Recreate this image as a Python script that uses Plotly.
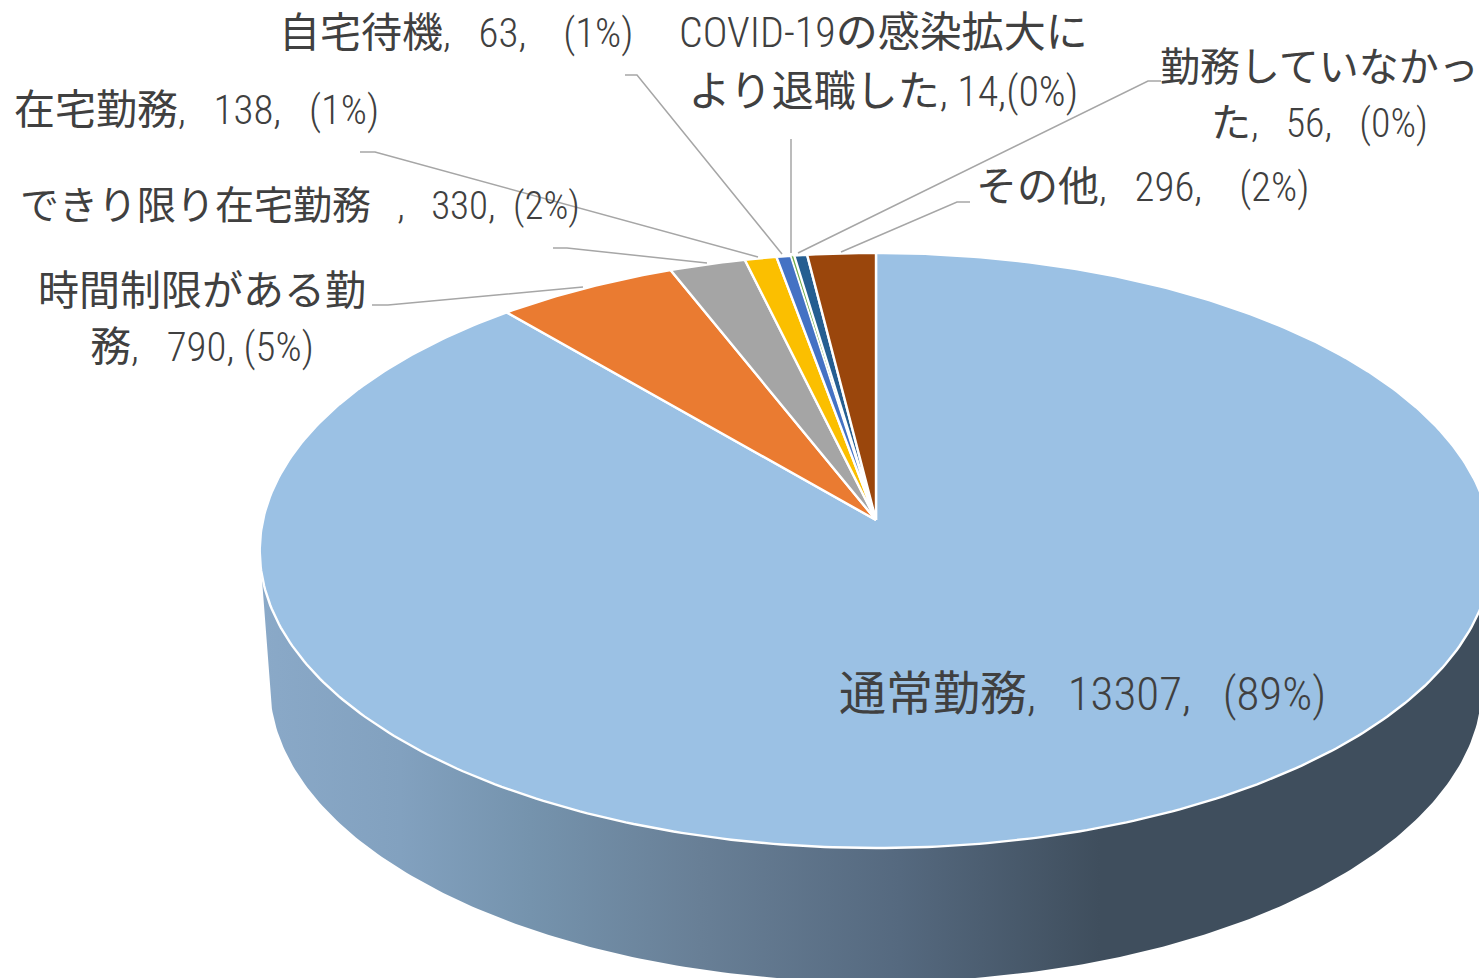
import numpy as np
import plotly.graph_objects as go

# Data
categories = ["通常勤務", "時間制限がある勤務", "できり限り在宅勤務", "在宅勤務", "自宅待機",
              "COVID-19の感染拡大により退職した", "勤務していなかった", "その他"]
values = [13307, 790, 330, 138, 63, 14, 56, 296]
percent_labels = [89, 5, 2, 1, 1, 0, 0, 2]
colors = ["#9bc1e4", "#ea7b31", "#a5a5a5", "#fbbf00", "#4472c4", "#70ad47", "#255e91", "#9a460c"]

SP = "\u00a0"
label_lines = [
    [f"通常勤務,{SP*3}13307,{SP*3}({percent_labels[0]}%)"],
    ["時間制限がある勤", f"務,{SP*3}790,{SP}({percent_labels[1]}%)"],
    [f"できり限り在宅勤務{SP*3},{SP*3}330,{SP*2}({percent_labels[2]}%)"],
    [f"在宅勤務,{SP*3}138,{SP*3}({percent_labels[3]}%)"],
    [f"自宅待機,{SP*3}63,{SP*4}({percent_labels[4]}%)"],
    ["COVID-19の感染拡大に", f"より退職した,{SP}14,({percent_labels[5]}%)"],
    ["勤務していなかっ", f"た,{SP*3}56,{SP*3}({percent_labels[6]}%)"],
    [f"その他,{SP*3}296,{SP*4}({percent_labels[7]}%)"],
]
label_x = [1082, 202, 300, 196, 456, 883, 1319, 1142]
label_y = [693, 319, 206, 110, 33, 62, 95, 187]
label_size = [47, 41, 39, 41, 41, 42, 40, 41]
label_line_size = [47, 43, 39, 41, 41, 45, 43, 41]

leaders = [
    ([372, 388, 583], [305, 305, 287]),
    ([553, 567, 707], [248, 248, 263]),
    ([360, 375, 758], [152, 152, 257]),
    ([625, 637, 782], [75, 75, 254]),
    ([791, 791], [139, 253]),
    ([1161, 1148, 798], [81, 81, 253]),
    ([970, 957, 841], [202, 202, 252]),
]

# Perspective of the pie disc on the page
CX, TOP_APEX_Y, B, A, K = 876, 520, 613, 294.4, 0.1025
BOTTOM_CY, BOTTOM_RX, BOTTOM_RY = 685, 606, 297
ELLIPSE_CY = 550

def project(theta):
    X, Y = np.sin(theta), np.cos(theta)
    w = 1 + K * Y
    return CX + B * X / w, TOP_APEX_Y - A * Y / w

fig = go.Figure()

# Side wall
phi = np.linspace(0, np.pi, 240)
rim_x = CX + (B * 1.0053) * np.cos(phi)
rim_y = ELLIPSE_CY + 297 * np.sin(phi)
bot_x = CX + BOTTOM_RX * np.cos(phi[::-1])
bot_y = BOTTOM_CY + BOTTOM_RY * np.sin(phi[::-1])
side_x = np.concatenate([rim_x, bot_x])
side_y = np.concatenate([rim_y, bot_y])
side_stops = [[0, "#8aa9c8"], [0.114, "#82a1bf"], [0.22, "#7593ad"], [0.358, "#687f96"],
              [0.52, "#55697f"], [0.683, "#3f4e5d"], [1, "#3f4e5d"]]
fig.add_trace(go.Scatter(x=side_x, y=side_y, mode="lines", fill="toself",
                         line=dict(width=0), hoverinfo="skip", showlegend=False,
                         fillgradient=dict(type="horizontal", colorscale=side_stops,
                                           start=260, stop=1490)))

# Top wedges, clockwise from twelve o'clock
fractions = np.array(values, dtype=float) / sum(values)
edges = np.concatenate([[0], np.cumsum(fractions)]) * 2 * np.pi
for i, cat in enumerate(categories):
    n = max(4, int(fractions[i] * 500))
    th = np.linspace(edges[i], edges[i + 1], n)
    ax, ay = project(th)
    fig.add_trace(go.Scatter(
        x=np.concatenate([[CX], ax, [CX]]), y=np.concatenate([[TOP_APEX_Y], ay, [TOP_APEX_Y]]),
        mode="lines", fill="toself", fillcolor=colors[i],
        line=dict(color="#ffffff", width=2.4 if values[i] > 20 else 1.2), name=cat,
        hoverinfo="skip", showlegend=False))

# Leader lines
for lx, ly in leaders:
    fig.add_trace(go.Scatter(x=lx, y=ly, mode="lines", line=dict(color="#a6a6a6", width=1.5),
                             hoverinfo="skip", showlegend=False))

for lines, x, y, s, ls in zip(label_lines, label_x, label_y, label_size, label_line_size):
    txt = "<br>".join(f'<span style="font-size:{s}px">{ln}</span>' for ln in lines)
    fig.add_annotation(x=x, y=y, text=txt, showarrow=False, xanchor="center", yanchor="middle",
                       align="center",
                       font=dict(size=ls, color="#404040",
                                 family="'Roboto Condensed Light','Roboto Condensed','Noto Sans CJK JP',sans-serif"))

fig.update_layout(width=1479, height=978, margin=dict(l=0, r=0, t=0, b=0),
                  paper_bgcolor="white", plot_bgcolor="white", showlegend=False,
                  xaxis=dict(range=[0, 1479], visible=False, fixedrange=True),
                  yaxis=dict(range=[978, 0], visible=False, fixedrange=True))

fig.write_html("out.html", config={"displayModeBar": False},
               post_script="document.body.style.margin='0';document.body.style.overflow='hidden';")
